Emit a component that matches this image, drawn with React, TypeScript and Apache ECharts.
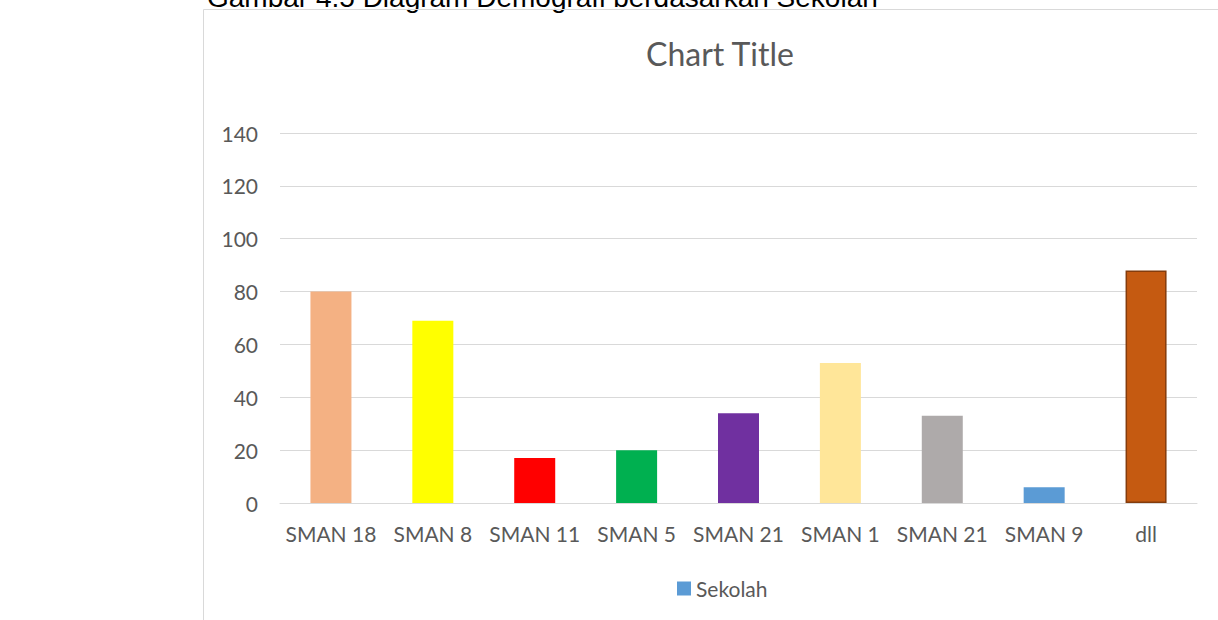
import React, { useEffect, useRef } from "react";
import * as echarts from "echarts";

const categories = ["SMAN 18", "SMAN 8", "SMAN 11", "SMAN 5", "SMAN 21", "SMAN 1", "SMAN 21", "SMAN 9", "dll"];
const values = [80, 69, 17, 20, 34, 53, 33, 6, 88];
const barColors = ["#F4B183", "#FFFF00", "#FF0000", "#00B050", "#7030A0", "#FFE699", "#AEAAAA", "#5B9BD5", "#C55A11"];
const seriesName = "Sekolah";
const chartTitle = "Chart Title";
const caption = "Gambar 4.5 Diagram Demografi berdasarkan Sekolah";

export default function App() {
  const ref = useRef<HTMLDivElement>(null);
  useEffect(() => {
    if (!ref.current) return;
    const chart = echarts.init(ref.current, null, { renderer: "svg" });
    const font = "Lato, 'Open Sans', sans-serif";
    chart.setOption({
      animation: false,
      backgroundColor: "#ffffff",
      title: {
        text: chartTitle,
        left: 715,
        textAlign: "center",
        top: 32,
        textStyle: { fontFamily: font, fontSize: 32, fontWeight: "normal", color: "#595959" },
      },
      legend: {
        data: [seriesName],
        left: 672,
        top: 573,
        itemWidth: 14,
        itemHeight: 14,
        icon: "rect",
        itemGap: 4,
        textStyle: { fontFamily: font, fontSize: 21, color: "#595959" },
      },
      graphic: [
        {
          type: "text",
          left: 207,
          top: -17,
          style: { text: caption, font: "28px 'Liberation Sans', Arial, sans-serif", fill: "#000000" },
        },
        {
          type: "line",
          shape: { x1: 203.5, y1: 9.5, x2: 1218, y2: 9.5 },
          style: { stroke: "#D9D9D9", lineWidth: 1 },
        },
        {
          type: "line",
          shape: { x1: 203.5, y1: 9.5, x2: 203.5, y2: 620 },
          style: { stroke: "#D9D9D9", lineWidth: 1 },
        },
      ],
      grid: { left: 280, right: 21, top: 133, bottom: 117, containLabel: false },
      xAxis: {
        type: "category",
        data: categories,
        axisLine: { lineStyle: { color: "#D9D9D9", width: 1 } },
        axisTick: { show: false },
        axisLabel: { fontFamily: font, fontSize: 21, color: "#595959", margin: 20, interval: 0 },
      },
      yAxis: {
        type: "value",
        min: 0,
        max: 140,
        interval: 20,
        axisLine: { show: false },
        axisTick: { show: false },
        splitLine: { lineStyle: { color: "#D9D9D9", width: 1 } },
        axisLabel: { fontFamily: font, fontSize: 21, color: "#595959", margin: 22 },
      },
      series: [
        {
          name: seriesName,
          type: "bar",
          barWidth: 41,
          itemStyle: { color: "#5B9BD5" },
          data: values.map((v, i) => ({
            value: v,
            itemStyle:
              i === values.length - 1
                ? { color: barColors[i], borderColor: "#843C0C", borderWidth: 1.5 }
                : { color: barColors[i] },
          })),
        },
      ],
    });
    return () => chart.dispose();
  }, []);
  return <div ref={ref} style={{ position: "absolute", left: 0, top: 0, width: 1218, height: 620 }} />;
}
